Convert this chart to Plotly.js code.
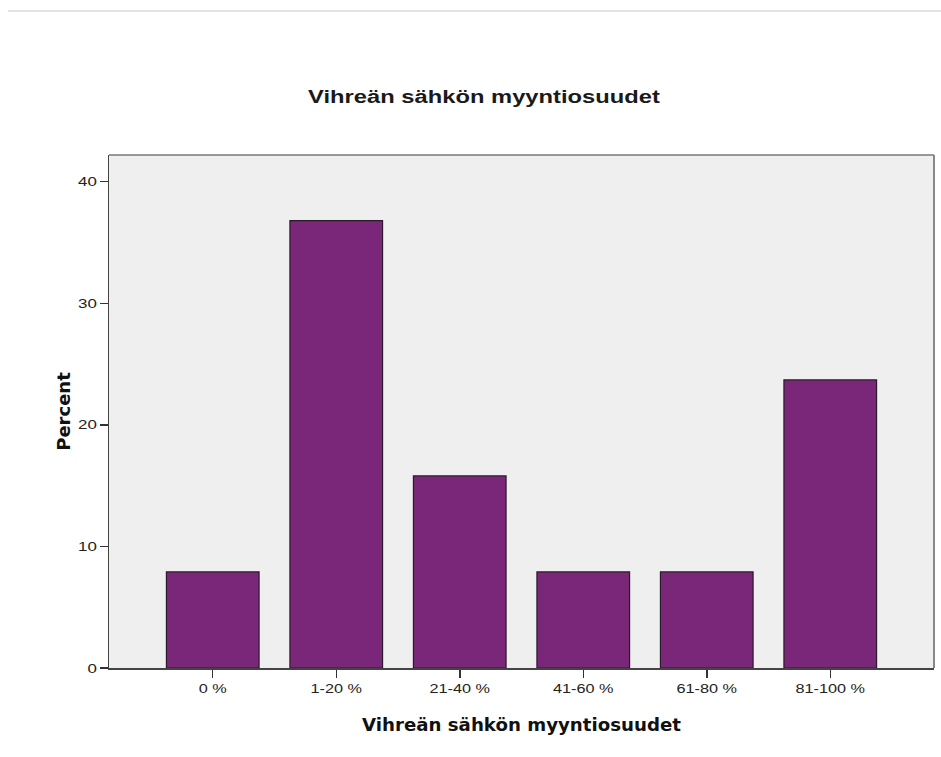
<!DOCTYPE html>
<html>
<head>
<meta charset="utf-8">
<script src="https://cdn.plot.ly/plotly-3.0.1.min.js"></script>
<style>html,body{margin:0;padding:0;background:#fff;}#chart{width:941px;height:757px;}</style>
</head>
<body>
<div id="chart"></div>
<script>
const categories = ["0 %", "1-20 %", "21-40 %", "41-60 %", "61-80 %", "81-100 %"];
const percentValues = [7.9, 36.8, 15.8, 7.9, 7.9, 23.7];
const yTickValues = [0, 10, 20, 30, 40];
const chartTitle = "Vihreän sähkön myyntiosuudet";
const xTitle = "Vihreän sähkön myyntiosuudet";
const yTitle = "Percent";

const trace = {
  type: "bar",
  x: categories.map((c, i) => i),
  y: percentValues,
  width: 0.75,
  marker: { color: "#7b2779", line: { color: "#2a1a2a", width: 1.2 } },
  hoverinfo: "none"
};

const layout = {
  width: 941, height: 757,
  margin: { l: 109, r: 7, t: 155, b: 89 },
  paper_bgcolor: "#ffffff",
  plot_bgcolor: "#efefef",
  showlegend: false,
  title: {
    text: "<b>" + chartTitle + "</b>",
    font: { family: "Liberation Sans, Arial, sans-serif", size: 18, color: "#1a1a1a" },
    x: 484 / 941, xanchor: "center", xref: "container",
    y: 1 - 97 / 757, yanchor: "middle", yref: "container"
  },
  xaxis: {
    range: [-0.84, 5.84],
    tickmode: "array",
    tickvals: categories.map((c, i) => i),
    ticktext: categories,
    ticks: "outside", ticklen: 8, tickwidth: 1.5, tickcolor: "#333",
    tickfont: { family: "Liberation Sans, Arial, sans-serif", size: 13, color: "#222" },
    showline: true, linecolor: "#444", linewidth: 1.5,
    showgrid: false, zeroline: false,
    title: {
      text: "<b>" + xTitle + "</b>",
      font: { family: "DejaVu Sans, Verdana, sans-serif", size: 17, color: "#111" },
      standoff: 24
    },
    fixedrange: true
  },
  yaxis: {
    range: [0, 42.2],
    tickmode: "array",
    tickvals: yTickValues,
    ticktext: yTickValues.map(String),
    ticks: "outside", ticklen: 8, tickwidth: 1.5, tickcolor: "#333",
    tickfont: { family: "Liberation Sans, Arial, sans-serif", size: 13, color: "#222" },
    showline: true, linecolor: "#444", linewidth: 1.5,
    showgrid: false, zeroline: false,
    title: {
      text: "<b>" + yTitle + "</b>",
      font: { family: "DejaVu Sans, Verdana, sans-serif", size: 18, color: "#111" },
      standoff: 7
    },
    fixedrange: true
  },
  shapes: [
    { type: "line", xref: "paper", yref: "paper", x0: 0, x1: 1, y0: 1, y1: 1,
      line: { color: "#777", width: 1.5 } },
    { type: "line", xref: "paper", yref: "paper", x0: 1, x1: 1, y0: 0, y1: 1,
      line: { color: "#888", width: 2 } },
    { type: "line", xref: "paper", yref: "paper", x0: -101/825, x1: (941-109)/825,
      y0: 1 + (155 - 11) / 513, y1: 1 + (155 - 11) / 513,
      line: { color: "#e4e4e4", width: 2 } }
  ]
};

function stretchText(gd) {
  const rules = [
    [".gtitle", 1.32],
    [".xtitle", 1.07],
    [".xtick text", 1.25],
    [".ytick text", 1.3]
  ];
  rules.forEach(([sel, s]) => {
    gd.querySelectorAll(sel).forEach(el => {
      const x = parseFloat(el.getAttribute("x") || "0");
      const prev = el.getAttribute("transform") || "";
      el.setAttribute("transform", prev + " translate(" + x + ",0) scale(" + s + ",1) translate(" + (-x) + ",0)");
    });
  });
}

Plotly.newPlot("chart", [trace], layout, { displayModeBar: false, staticPlot: true })
  .then(gd => stretchText(gd));
</script>
</body>
</html>
